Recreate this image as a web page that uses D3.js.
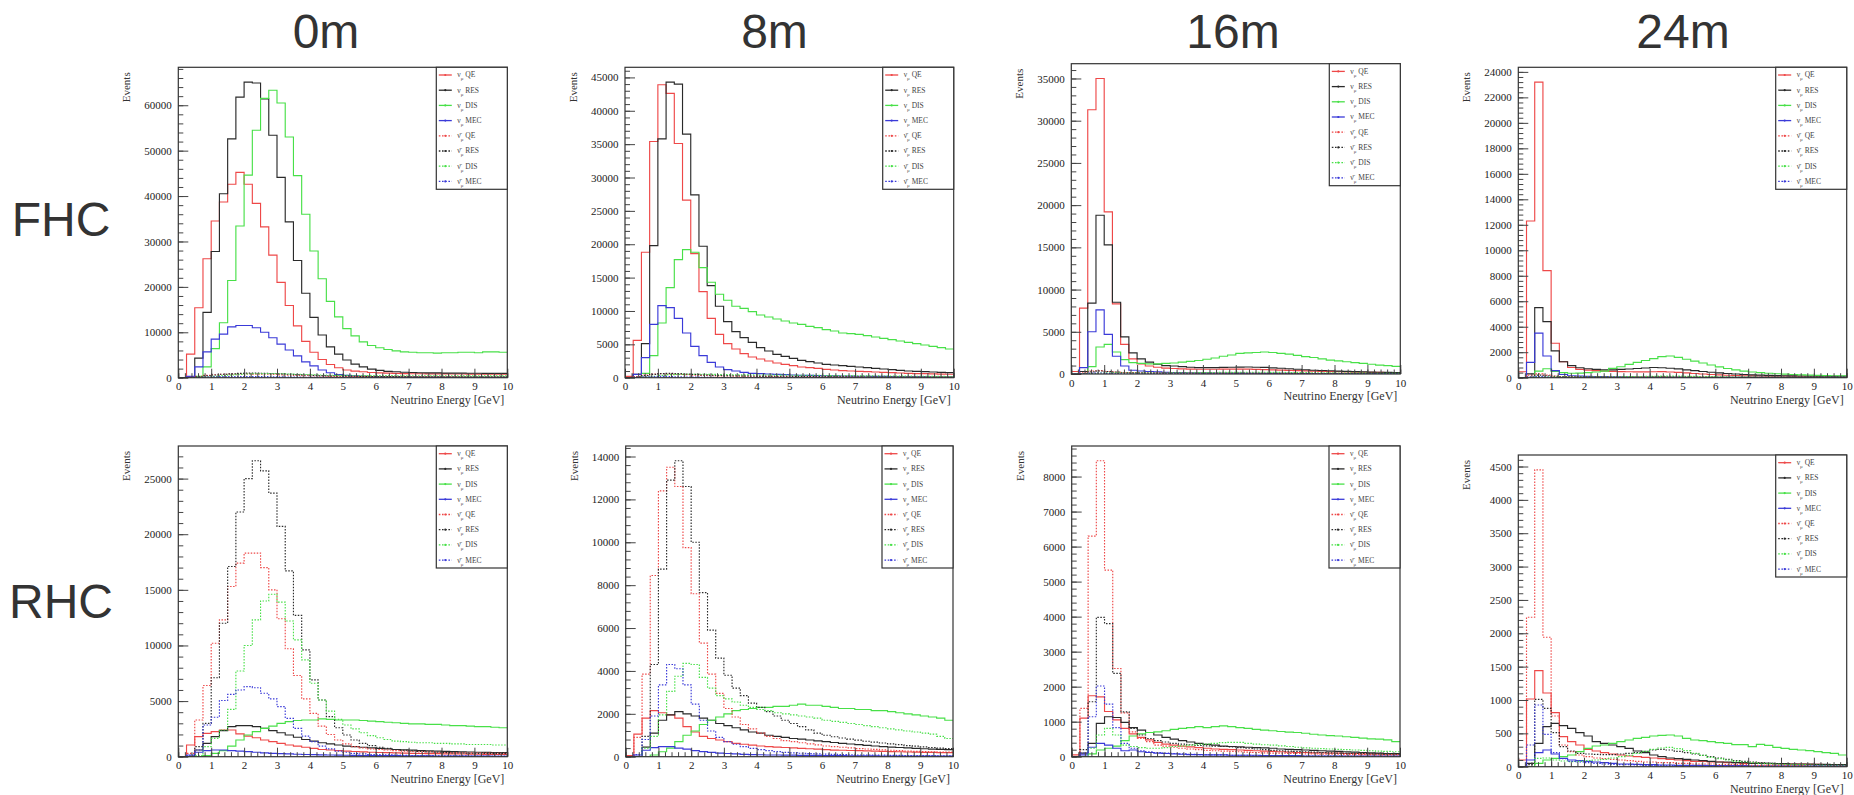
<!DOCTYPE html>
<html>
<head>
<meta charset="utf-8">
<script src="https://cdn.jsdelivr.net/npm/d3@7"></script>
<style>
  body { margin: 0; background: #fff; }
  .tick text { font-family: "Liberation Serif", "Times New Roman", serif; font-size: 11px; fill: #222; }
</style>
</head>
<body>
<div id="chart"></div>
<script>
// bin width in GeV, 40 bins from 0 to 10
const binWidth = 0.25;

// ---------- FHC 0m ----------
const fhc0NuQE = [0, 5200, 15400, 26200, 34500, 38700, 42600, 45200, 42600, 38400, 33200, 27000, 21000, 15900, 11400, 8000, 5600, 4000, 2900, 2200, 1700, 1450, 1300, 1150, 1050, 1000, 950, 900, 880, 860, 850, 840, 830, 820, 810, 800, 800, 790, 780, 780];
const fhc0NuRES = [0, 200, 4300, 14400, 27800, 40500, 52600, 61800, 65100, 64900, 61400, 53400, 44100, 34300, 25800, 18600, 13300, 9400, 6800, 5200, 3900, 3000, 2400, 1900, 1600, 1400, 1300, 1200, 1150, 1100, 1050, 1050, 1000, 1000, 1000, 980, 980, 960, 960, 950];
const fhc0NuDIS = [0, 0, 300, 2400, 6400, 12100, 21400, 33400, 44600, 54500, 61500, 63300, 60500, 53000, 44500, 36000, 27900, 21800, 16800, 13400, 10800, 9200, 7900, 7100, 6600, 6200, 5900, 5700, 5600, 5500, 5500, 5400, 5500, 5500, 5600, 5600, 5500, 5700, 5700, 5600];
const fhc0NuMEC = [0, 300, 2400, 5700, 8500, 9600, 11200, 11500, 11500, 11000, 10000, 8800, 7400, 6100, 4800, 3500, 2600, 1700, 1100, 700, 500, 400, 300, 250, 220, 200, 180, 160, 150, 140, 130, 120, 110, 100, 100, 90, 90, 80, 80, 80];
const fhc0AntiQE = [0, 100, 300, 500, 650, 750, 800, 850, 850, 800, 750, 700, 620, 550, 480, 420, 370, 330, 300, 280, 260, 250, 240, 230, 220, 210, 200, 200, 190, 190, 180, 180, 170, 170, 170, 160, 160, 160, 150, 150];
const fhc0AntiRES = [0, 50, 200, 400, 600, 750, 850, 950, 1000, 1000, 980, 920, 850, 760, 670, 590, 520, 460, 410, 370, 340, 310, 290, 270, 260, 250, 240, 230, 220, 220, 210, 210, 200, 200, 200, 190, 190, 190, 180, 180];
const fhc0AntiDIS = [0, 0, 50, 150, 300, 450, 600, 720, 820, 880, 900, 900, 870, 820, 760, 700, 640, 590, 550, 520, 500, 480, 470, 460, 450, 450, 440, 440, 430, 430, 430, 420, 420, 420, 410, 410, 410, 400, 400, 400];
const fhc0AntiMEC = [0, 20, 80, 150, 200, 240, 260, 270, 270, 260, 240, 220, 190, 160, 130, 100, 80, 60, 45, 35, 30, 25, 20, 20, 15, 15, 15, 10, 10, 10, 10, 10, 10, 10, 10, 10, 10, 10, 10, 10];

// ---------- FHC 8m ----------
const fhc8NuQE = [200, 5600, 18800, 35400, 43900, 42600, 35100, 26600, 18600, 12900, 8900, 6500, 5100, 4300, 3600, 3100, 2800, 2500, 2200, 2000, 1800, 1600, 1500, 1400, 1250, 1150, 1050, 1000, 950, 900, 850, 800, 750, 700, 650, 620, 600, 570, 540, 520];
const fhc8NuRES = [0, 500, 5100, 19800, 35800, 44300, 44000, 36500, 27400, 19700, 13800, 10700, 8400, 6900, 6000, 5300, 4500, 4000, 3500, 3200, 2900, 2600, 2400, 2200, 2000, 1900, 1800, 1700, 1600, 1500, 1400, 1300, 1200, 1100, 1000, 950, 900, 850, 800, 750];
const fhc8NuDIS = [0, 0, 650, 3300, 8200, 13500, 17700, 19200, 18800, 16500, 14300, 12500, 11600, 10700, 10400, 9900, 9400, 9100, 8800, 8500, 8200, 8000, 7700, 7500, 7200, 7000, 6700, 6600, 6500, 6300, 6100, 5900, 5700, 5500, 5300, 5100, 4900, 4700, 4500, 4300];
const fhc8NuMEC = [0, 500, 3000, 8000, 10800, 10500, 8900, 6700, 4700, 3300, 2300, 1600, 1200, 1000, 800, 650, 600, 550, 500, 450, 400, 370, 340, 310, 290, 270, 250, 230, 220, 210, 200, 190, 180, 170, 160, 150, 150, 140, 140, 130];
const fhc8AntiQE = [0, 150, 400, 550, 600, 580, 520, 450, 390, 340, 300, 270, 250, 230, 220, 210, 200, 190, 180, 170, 160, 150, 150, 140, 140, 130, 130, 120, 120, 110, 110, 110, 100, 100, 100, 100, 90, 90, 90, 90];
const fhc8AntiRES = [0, 80, 300, 500, 620, 650, 620, 560, 490, 430, 380, 340, 310, 290, 270, 250, 240, 230, 220, 210, 200, 190, 180, 170, 160, 150, 150, 140, 140, 130, 130, 120, 120, 110, 110, 100, 100, 100, 90, 90];
const fhc8AntiDIS = [0, 0, 80, 200, 350, 450, 500, 520, 520, 510, 490, 470, 450, 440, 430, 420, 410, 400, 390, 380, 370, 360, 350, 340, 330, 320, 310, 300, 290, 280, 270, 260, 250, 240, 230, 220, 210, 200, 190, 180];
const fhc8AntiMEC = [0, 40, 120, 180, 190, 170, 140, 110, 80, 60, 45, 35, 30, 25, 20, 20, 15, 15, 15, 10, 10, 10, 10, 10, 10, 10, 10, 10, 10, 10, 10, 10, 10, 10, 10, 10, 10, 10, 10, 10];

// ---------- FHC 16m ----------
const fhc16NuQE = [300, 7800, 31300, 35000, 19200, 8300, 3500, 1800, 1200, 950, 800, 700, 650, 600, 580, 560, 560, 560, 570, 580, 580, 570, 550, 520, 490, 460, 430, 400, 370, 340, 310, 290, 270, 250, 230, 210, 200, 190, 180, 170];
const fhc16NuRES = [0, 300, 8400, 18800, 15300, 8500, 4400, 2500, 1800, 1400, 1150, 1000, 950, 870, 800, 750, 750, 750, 780, 800, 820, 830, 800, 780, 720, 680, 620, 560, 500, 450, 420, 380, 340, 310, 280, 250, 230, 210, 200, 180];
const fhc16NuDIS = [0, 0, 870, 3200, 3500, 2600, 1700, 1350, 1250, 1200, 1200, 1250, 1300, 1400, 1500, 1600, 1750, 1900, 2100, 2250, 2450, 2500, 2550, 2600, 2550, 2450, 2350, 2200, 2050, 1950, 1800, 1650, 1550, 1450, 1350, 1250, 1150, 1050, 1000, 900];
const fhc16NuMEC = [0, 750, 5000, 7600, 4700, 2100, 950, 450, 350, 300, 250, 200, 180, 160, 150, 140, 130, 120, 110, 100, 100, 90, 90, 80, 80, 70, 70, 60, 60, 60, 50, 50, 50, 50, 40, 40, 40, 40, 40, 40];
const fhc16AntiQE = [0, 150, 350, 400, 300, 220, 180, 160, 150, 140, 130, 120, 120, 110, 110, 110, 100, 100, 100, 100, 100, 90, 90, 90, 80, 80, 80, 70, 70, 70, 60, 60, 60, 50, 50, 50, 50, 40, 40, 40];
const fhc16AntiRES = [0, 50, 250, 350, 300, 230, 180, 150, 130, 120, 110, 100, 100, 100, 100, 100, 100, 100, 100, 100, 100, 100, 100, 90, 90, 80, 80, 70, 70, 60, 60, 50, 50, 50, 40, 40, 40, 40, 30, 30];
const fhc16AntiDIS = [0, 0, 50, 120, 150, 140, 120, 110, 110, 110, 120, 120, 130, 140, 150, 160, 170, 180, 190, 200, 210, 210, 210, 210, 200, 190, 180, 170, 160, 150, 140, 130, 120, 110, 100, 100, 90, 80, 80, 70];
const fhc16AntiMEC = [0, 30, 100, 120, 80, 40, 25, 20, 15, 15, 10, 10, 10, 10, 10, 10, 10, 10, 10, 10, 10, 10, 10, 10, 10, 10, 10, 10, 10, 10, 10, 10, 10, 10, 10, 10, 10, 10, 10, 10];

// ---------- FHC 24m ----------
const fhc24NuQE = [470, 12300, 23200, 8400, 2700, 1250, 800, 650, 600, 550, 520, 500, 480, 470, 460, 460, 470, 480, 450, 420, 380, 330, 290, 250, 220, 190, 170, 150, 140, 130, 120, 110, 110, 100, 100, 90, 90, 80, 80, 80];
const fhc24NuRES = [0, 300, 5500, 4400, 2100, 1250, 950, 780, 700, 650, 620, 620, 650, 680, 720, 760, 800, 780, 740, 690, 620, 560, 490, 430, 380, 330, 290, 250, 220, 200, 180, 160, 150, 140, 130, 120, 110, 110, 100, 100];
const fhc24NuDIS = [0, 0, 520, 700, 500, 400, 350, 360, 400, 450, 520, 730, 860, 1050, 1200, 1350, 1500, 1650, 1700, 1600, 1450, 1300, 1150, 1000, 850, 720, 620, 520, 450, 400, 350, 310, 280, 250, 220, 200, 180, 160, 150, 140];
const fhc24NuMEC = [0, 1200, 3500, 1700, 550, 250, 150, 120, 100, 90, 80, 70, 60, 60, 50, 50, 50, 40, 40, 40, 30, 30, 30, 30, 20, 20, 20, 20, 20, 20, 20, 20, 20, 20, 20, 20, 20, 20, 20, 20];
const fhc24AntiQE = [0, 200, 300, 200, 120, 90, 80, 70, 70, 60, 60, 60, 60, 60, 60, 60, 60, 60, 50, 50, 50, 40, 40, 40, 30, 30, 30, 30, 20, 20, 20, 20, 20, 20, 20, 20, 20, 20, 20, 20];
const fhc24AntiRES = [0, 50, 200, 150, 100, 80, 70, 60, 60, 60, 60, 60, 70, 70, 80, 80, 80, 80, 70, 70, 60, 50, 40, 40, 30, 30, 30, 20, 20, 20, 20, 20, 20, 20, 20, 20, 20, 20, 20, 20];
const fhc24AntiDIS = [0, 0, 40, 60, 50, 40, 40, 40, 40, 50, 50, 60, 70, 80, 90, 100, 110, 120, 120, 120, 110, 100, 90, 80, 70, 60, 50, 40, 40, 30, 30, 30, 20, 20, 20, 20, 20, 20, 20, 20];
const fhc24AntiMEC = [0, 40, 80, 40, 15, 10, 10, 10, 10, 10, 10, 10, 10, 10, 10, 10, 10, 10, 10, 10, 10, 10, 10, 10, 10, 10, 10, 10, 10, 10, 10, 10, 10, 10, 10, 10, 10, 10, 10, 10];

// ---------- RHC 0m ----------
const rhc0NuQE = [0, 1050, 1800, 2100, 2250, 2400, 2400, 2050, 1850, 1700, 1500, 1350, 1200, 1050, 950, 850, 750, 650, 600, 550, 500, 470, 440, 400, 380, 360, 340, 320, 300, 290, 280, 270, 260, 250, 240, 230, 220, 210, 200, 200];
const rhc0NuRES = [0, 0, 600, 1200, 1800, 2350, 2700, 2800, 2800, 2700, 2550, 2350, 2150, 1950, 1750, 1550, 1400, 1250, 1150, 1050, 950, 900, 850, 800, 750, 700, 650, 620, 590, 560, 530, 500, 480, 460, 440, 420, 400, 390, 380, 370];
const rhc0NuDIS = [0, 0, 0, 100, 300, 550, 950, 1500, 1950, 2250, 2550, 2750, 3000, 3150, 3250, 3300, 3300, 3400, 3350, 3300, 3300, 3300, 3250, 3200, 3150, 3100, 3050, 3000, 2950, 2950, 2900, 2900, 2850, 2800, 2800, 2750, 2700, 2700, 2650, 2600];
const rhc0NuMEC = [0, 150, 400, 550, 600, 600, 550, 500, 450, 400, 350, 300, 280, 250, 220, 200, 180, 160, 150, 140, 130, 120, 110, 100, 100, 90, 90, 80, 80, 70, 70, 60, 60, 60, 50, 50, 50, 50, 40, 40];
const rhc0AntiQE = [0, 300, 3300, 6400, 10200, 12300, 15300, 17400, 18300, 18300, 17000, 15000, 12400, 9700, 7300, 5200, 3900, 2750, 2000, 1500, 1150, 900, 800, 700, 650, 600, 550, 500, 470, 440, 420, 400, 380, 360, 350, 340, 330, 320, 310, 300];
const rhc0AntiRES = [0, 0, 900, 3000, 7100, 12000, 17100, 22000, 25000, 26600, 25700, 23700, 20700, 16700, 12700, 9600, 6900, 5100, 3600, 2600, 1950, 1500, 1200, 1000, 850, 750, 650, 580, 520, 470, 430, 400, 370, 350, 330, 310, 300, 290, 280, 270];
const rhc0AntiDIS = [0, 0, 100, 900, 1650, 2400, 4250, 7700, 10000, 12300, 14000, 14600, 13900, 12200, 10500, 8700, 6600, 5100, 4100, 3350, 2850, 2500, 2150, 1900, 1700, 1550, 1400, 1350, 1300, 1250, 1250, 1200, 1200, 1150, 1150, 1100, 1100, 1100, 1050, 1050];
const rhc0AntiMEC = [0, 100, 600, 2850, 3550, 5050, 5600, 6000, 6300, 6200, 5700, 5200, 4500, 3450, 2550, 1850, 1350, 950, 700, 500, 400, 300, 250, 200, 180, 160, 140, 120, 110, 100, 90, 80, 80, 70, 70, 60, 60, 60, 50, 50];

// ---------- RHC 8m ----------
const rhc8NuQE = [50, 1050, 1800, 2150, 2050, 1950, 1800, 1400, 1150, 950, 850, 780, 700, 620, 580, 540, 500, 470, 450, 430, 410, 390, 370, 350, 330, 310, 300, 290, 280, 270, 260, 250, 240, 230, 220, 210, 200, 200, 190, 190];
const rhc8NuRES = [0, 0, 450, 1100, 1700, 1950, 2100, 2000, 1900, 1800, 1700, 1550, 1450, 1350, 1250, 1150, 1100, 1000, 950, 900, 850, 820, 780, 740, 700, 660, 620, 590, 560, 530, 500, 470, 450, 430, 410, 390, 370, 350, 340, 330];
const rhc8NuDIS = [0, 0, 0, 80, 230, 400, 700, 1000, 1200, 1500, 1700, 1850, 2000, 2150, 2200, 2250, 2300, 2300, 2350, 2350, 2400, 2450, 2400, 2400, 2350, 2300, 2250, 2250, 2200, 2200, 2150, 2150, 2100, 2050, 2000, 1950, 1900, 1850, 1800, 1700];
const rhc8NuMEC = [0, 80, 300, 420, 470, 470, 400, 350, 280, 240, 200, 170, 150, 130, 110, 100, 90, 80, 80, 70, 70, 60, 60, 60, 50, 50, 50, 40, 40, 40, 40, 30, 30, 30, 30, 30, 30, 30, 30, 30];
const rhc8AntiQE = [0, 900, 3850, 8450, 12400, 13500, 12600, 9750, 7600, 5300, 3850, 2950, 2250, 1850, 1500, 1300, 1100, 950, 850, 750, 700, 650, 600, 550, 500, 470, 440, 410, 380, 360, 340, 320, 300, 280, 260, 250, 240, 230, 220, 210];
const rhc8AntiRES = [0, 0, 950, 4300, 8750, 12900, 13800, 12600, 10000, 7650, 5900, 4600, 3800, 3200, 2850, 2500, 2300, 2100, 1900, 1700, 1550, 1400, 1250, 1100, 1000, 930, 870, 820, 770, 720, 680, 640, 600, 560, 520, 490, 460, 430, 400, 380];
const rhc8AntiDIS = [0, 0, 400, 950, 1950, 3050, 3750, 4350, 4300, 3700, 3200, 2850, 2700, 2550, 2400, 2300, 2200, 2150, 2050, 2000, 1950, 1900, 1850, 1800, 1700, 1650, 1600, 1550, 1500, 1450, 1400, 1350, 1300, 1250, 1200, 1150, 1100, 1050, 950, 850];
const rhc8AntiMEC = [0, 100, 800, 1900, 3350, 4300, 4100, 3350, 2450, 1700, 1200, 900, 700, 580, 470, 390, 330, 280, 240, 200, 180, 160, 140, 130, 120, 110, 100, 90, 80, 80, 70, 70, 60, 60, 50, 50, 50, 50, 40, 40];

// ---------- RHC 16m ----------
const rhc16NuQE = [50, 1100, 1740, 1710, 1290, 1050, 810, 650, 550, 480, 410, 360, 330, 300, 280, 260, 240, 220, 210, 200, 190, 180, 170, 160, 150, 140, 130, 120, 120, 110, 110, 100, 100, 90, 90, 80, 80, 80, 70, 70];
const rhc16NuRES = [0, 100, 380, 950, 1140, 1120, 980, 830, 760, 690, 620, 550, 500, 460, 420, 380, 350, 330, 300, 290, 280, 270, 260, 250, 240, 220, 210, 200, 190, 180, 170, 160, 150, 140, 130, 120, 110, 100, 90, 90];
const rhc16NuDIS = [0, 0, 80, 190, 240, 300, 460, 590, 650, 690, 710, 740, 780, 810, 830, 860, 830, 860, 880, 860, 830, 810, 780, 760, 740, 720, 700, 690, 670, 640, 620, 600, 590, 570, 550, 530, 510, 500, 480, 430];
const rhc16NuMEC = [0, 50, 270, 380, 330, 240, 170, 190, 140, 120, 100, 90, 80, 70, 60, 60, 50, 50, 50, 40, 40, 40, 40, 30, 30, 30, 30, 30, 20, 20, 20, 20, 20, 20, 20, 20, 20, 20, 20, 20];
const rhc16AntiQE = [0, 1380, 6300, 8450, 5330, 2520, 1250, 710, 520, 430, 330, 300, 270, 240, 220, 200, 180, 170, 160, 150, 140, 130, 120, 110, 100, 100, 90, 90, 80, 80, 70, 70, 70, 60, 60, 60, 50, 50, 50, 50];
const rhc16AntiRES = [0, 200, 1570, 3980, 3800, 2380, 1280, 810, 620, 520, 460, 420, 380, 360, 340, 320, 310, 300, 290, 280, 260, 240, 220, 200, 180, 170, 160, 150, 140, 130, 120, 110, 100, 100, 90, 90, 80, 80, 70, 70];
const rhc16AntiDIS = [0, 0, 240, 620, 810, 620, 330, 290, 260, 240, 240, 260, 290, 310, 330, 350, 360, 380, 400, 410, 410, 380, 360, 340, 330, 310, 290, 270, 250, 240, 230, 220, 210, 200, 190, 180, 170, 160, 150, 140];
const rhc16AntiMEC = [0, 100, 1140, 2020, 1500, 830, 380, 240, 170, 140, 120, 100, 90, 80, 70, 60, 60, 50, 50, 40, 40, 40, 30, 30, 30, 30, 20, 20, 20, 20, 20, 20, 20, 10, 10, 10, 10, 10, 10, 10];

// ---------- RHC 24m ----------
const rhc24NuQE = [100, 1015, 1440, 1105, 810, 450, 375, 325, 260, 235, 210, 190, 175, 160, 150, 140, 130, 120, 110, 100, 90, 80, 80, 70, 70, 60, 60, 50, 50, 50, 45, 45, 40, 40, 40, 35, 35, 30, 30, 30];
const rhc24NuRES = [0, 50, 350, 600, 650, 615, 575, 510, 460, 375, 350, 325, 300, 275, 235, 210, 175, 150, 130, 120, 110, 100, 90, 80, 70, 70, 60, 60, 50, 50, 50, 45, 45, 40, 40, 40, 35, 35, 30, 30];
const rhc24NuDIS = [0, 0, 50, 100, 125, 150, 175, 225, 275, 310, 325, 350, 375, 400, 425, 440, 460, 470, 475, 460, 425, 400, 390, 375, 360, 350, 330, 330, 300, 335, 320, 290, 275, 260, 250, 240, 225, 210, 200, 175];
const rhc24NuMEC = [0, 100, 210, 250, 190, 125, 100, 90, 80, 70, 60, 50, 40, 40, 35, 30, 30, 25, 25, 20, 20, 20, 20, 15, 15, 15, 15, 15, 10, 10, 10, 10, 10, 10, 10, 10, 10, 10, 10, 10];
const rhc24AntiQE = [0, 2240, 4450, 1940, 760, 325, 225, 175, 150, 130, 120, 110, 100, 90, 80, 70, 70, 60, 60, 50, 50, 40, 40, 40, 30, 30, 30, 30, 20, 20, 20, 20, 20, 20, 20, 10, 10, 10, 10, 10];
const rhc24AntiRES = [0, 30, 1010, 875, 510, 300, 235, 200, 190, 185, 180, 180, 190, 200, 210, 230, 250, 260, 250, 230, 210, 190, 170, 150, 130, 110, 90, 80, 70, 60, 50, 45, 40, 35, 30, 30, 25, 25, 20, 20];
const rhc24AntiDIS = [0, 0, 125, 130, 100, 85, 75, 80, 90, 100, 110, 130, 150, 170, 200, 230, 260, 280, 290, 270, 240, 200, 170, 140, 120, 100, 80, 70, 60, 50, 45, 40, 35, 30, 30, 25, 25, 20, 20, 20];
const rhc24AntiMEC = [0, 325, 925, 485, 210, 120, 80, 70, 60, 50, 40, 35, 30, 30, 25, 20, 20, 20, 15, 15, 15, 10, 10, 10, 10, 10, 10, 10, 10, 10, 10, 10, 10, 10, 10, 10, 10, 10, 10, 10];

// legend labels and tick steps
const interactionLabels = ['QE', 'RES', 'DIS', 'MEC', 'QE', 'RES', 'DIS', 'MEC'];
const columnTitles = ['0m', '8m', '16m', '24m'];
const rowTitles = ['FHC', 'RHC'];
const yTickSteps = [10000, 5000, 5000, 2000, 5000, 2000, 1000, 500];

// line colours for the 8 series (solid = nu, dotted = anti-nu)
const seriesColours = ['#ee4848', '#2a2a2a', '#48e048', '#3a3ad8', '#ee4848', '#2a2a2a', '#48e048', '#3a3ad8'];

// frame boxes [left, top, right, bottom] for each pad
const frames = [
	[178.3, 67.3, 507.3, 377.7],
	[625, 67.3, 953.7, 377.7],
	[1071.3, 63.7, 1400.3, 374],
	[1518.3, 67.3, 1846.7, 377.7],
	[178.3, 446, 507.3, 756.7],
	[625.7, 446, 953, 756.7],
	[1071.7, 446, 1400, 756.7],
	[1518.3, 455, 1846.7, 766.7]
];

const panelSeries = [
	[fhc0NuQE, fhc0NuRES, fhc0NuDIS, fhc0NuMEC, fhc0AntiQE, fhc0AntiRES, fhc0AntiDIS, fhc0AntiMEC],
	[fhc8NuQE, fhc8NuRES, fhc8NuDIS, fhc8NuMEC, fhc8AntiQE, fhc8AntiRES, fhc8AntiDIS, fhc8AntiMEC],
	[fhc16NuQE, fhc16NuRES, fhc16NuDIS, fhc16NuMEC, fhc16AntiQE, fhc16AntiRES, fhc16AntiDIS, fhc16AntiMEC],
	[fhc24NuQE, fhc24NuRES, fhc24NuDIS, fhc24NuMEC, fhc24AntiQE, fhc24AntiRES, fhc24AntiDIS, fhc24AntiMEC],
	[rhc0NuQE, rhc0NuRES, rhc0NuDIS, rhc0NuMEC, rhc0AntiQE, rhc0AntiRES, rhc0AntiDIS, rhc0AntiMEC],
	[rhc8NuQE, rhc8NuRES, rhc8NuDIS, rhc8NuMEC, rhc8AntiQE, rhc8AntiRES, rhc8AntiDIS, rhc8AntiMEC],
	[rhc16NuQE, rhc16NuRES, rhc16NuDIS, rhc16NuMEC, rhc16AntiQE, rhc16AntiRES, rhc16AntiDIS, rhc16AntiMEC],
	[rhc24NuQE, rhc24NuRES, rhc24NuDIS, rhc24NuMEC, rhc24AntiQE, rhc24AntiRES, rhc24AntiDIS, rhc24AntiMEC]
];

const width = 1854;
const height = 795;
const serif = '"Liberation Serif", "Times New Roman", serif';
const sans = '"Liberation Sans", Arial, sans-serif';

const svg = d3.select('#chart')
	.append('svg')
	.attr('width', width)
	.attr('height', height);

// Column and row titles
const titleX = [326, 774.5, 1233, 1683];
columnTitles.forEach((t, i) => {
	svg.append('text')
		.attr('x', titleX[i])
		.attr('y', 48)
		.attr('text-anchor', 'middle')
		.attr('font-family', sans)
		.attr('font-size', 48)
		.attr('fill', '#333')
		.text(t);
});
const rowY = [236, 618];
rowTitles.forEach((t, i) => {
	svg.append('text')
		.attr('x', 61)
		.attr('y', rowY[i])
		.attr('text-anchor', 'middle')
		.attr('font-family', sans)
		.attr('font-size', 48)
		.attr('fill', '#333')
		.text(t);
});

// Draw every pad
panelSeries.forEach((series, k) => {
	const [x0, y0, x1, y1] = frames[k];
	const yMax = d3.max(series, s => d3.max(s)) * 1.05;
	const step = yTickSteps[k];

	const xScale = d3.scaleLinear().domain([0, 10]).range([x0, x1]);
	const yScale = d3.scaleLinear().domain([0, yMax]).range([y1, y0]);

	const pad = svg.append('g');

	pad.append('clipPath')
		.attr('id', 'clip' + k)
		.append('rect')
		.attr('x', x0).attr('y', y0)
		.attr('width', x1 - x0).attr('height', y1 - y0);

	// histograms
	const stepLine = d3.line()
		.x(d => xScale(d[0]))
		.y(d => yScale(d[1]))
		.curve(d3.curveStepAfter);

	series.forEach((vals, i) => {
		const pts = vals.map((v, b) => [b * binWidth, v]);
		pts.push([10, vals[vals.length - 1]]);
		pad.append('path')
			.attr('d', stepLine(pts))
			.attr('clip-path', `url(#clip${k})`)
			.attr('fill', 'none')
			.attr('stroke', seriesColours[i])
			.attr('stroke-width', 1.15)
			.attr('stroke-dasharray', i >= 4 ? '1.5,1.5' : null);
	});

	// x axis, ticks inside the frame
	const xAxis = pad.append('g')
		.attr('transform', `translate(0, ${y1})`)
		.call(d3.axisBottom(xScale).tickValues(d3.range(0, 11, 1)).tickSize(-9).tickPadding(5).tickFormat(d3.format('d')));
	xAxis.select('.domain').remove();
	xAxis.selectAll('line').attr('stroke', '#444');

	const xMinor = pad.append('g')
		.attr('transform', `translate(0, ${y1})`)
		.call(d3.axisBottom(xScale).tickValues(d3.range(0, 10.01, 0.2)).tickSize(-4.5).tickFormat(''));
	xMinor.select('.domain').remove();
	xMinor.selectAll('line').attr('stroke', '#444');

	// y axis
	const yAxis = pad.append('g')
		.attr('transform', `translate(${x0}, 0)`)
		.call(d3.axisLeft(yScale).tickValues(d3.range(0, yMax, step)).tickSize(-10).tickPadding(6.5).tickFormat(d3.format('d')));
	yAxis.select('.domain').remove();
	yAxis.selectAll('line').attr('stroke', '#444');

	const yMinor = pad.append('g')
		.attr('transform', `translate(${x0}, 0)`)
		.call(d3.axisLeft(yScale).tickValues(d3.range(0, yMax, step / 5)).tickSize(-5).tickFormat(''));
	yMinor.select('.domain').remove();
	yMinor.selectAll('line').attr('stroke', '#444');

	// frame
	pad.append('rect')
		.attr('x', x0).attr('y', y0)
		.attr('width', x1 - x0).attr('height', y1 - y0)
		.attr('fill', 'none')
		.attr('stroke', '#333')
		.attr('stroke-width', 1.2);

	// axis titles
	pad.append('text')
		.attr('transform', `translate(${x0 - 48}, ${y0 + 5}) rotate(-90)`)
		.attr('text-anchor', 'end')
		.attr('font-family', serif)
		.attr('font-size', 11)
		.attr('fill', '#333')
		.text('Events');

	pad.append('text')
		.attr('x', x1 - 3)
		.attr('y', y1 + 26)
		.attr('text-anchor', 'end')
		.attr('font-family', serif)
		.attr('font-size', 12)
		.attr('fill', '#333')
		.text('Neutrino Energy [GeV]');

	// legend
	const legW = 71;
	const legH = 122;
	const legend = pad.append('g').attr('transform', `translate(${x1 - legW}, ${y0})`);
	legend.append('rect')
		.attr('width', legW).attr('height', legH)
		.attr('fill', '#fff')
		.attr('stroke', '#333')
		.attr('stroke-width', 1.2);

	interactionLabels.forEach((lab, i) => {
		const ey = 7.7 + i * 15.2;
		legend.append('line')
			.attr('x1', 2.5).attr('x2', 15.5)
			.attr('y1', ey).attr('y2', ey)
			.attr('stroke', seriesColours[i])
			.attr('stroke-width', 1.3)
			.attr('stroke-dasharray', i >= 4 ? '1.6,1.6' : null);
		legend.append('circle')
			.attr('cx', 9).attr('cy', ey).attr('r', 1.1)
			.attr('fill', seriesColours[i]);
		const t = legend.append('text')
			.attr('x', 21)
			.attr('y', ey + 2.5)
			.attr('font-family', serif)
			.attr('font-size', 7.5)
			.attr('fill', '#444');
		t.append('tspan').text(i >= 4 ? 'ν\u0304' : 'ν');
		t.append('tspan').attr('baseline-shift', 'sub').attr('font-size', 5).text('μ');
		t.append('tspan').text(' ' + lab);
	});
});
</script>
</body>
</html>
